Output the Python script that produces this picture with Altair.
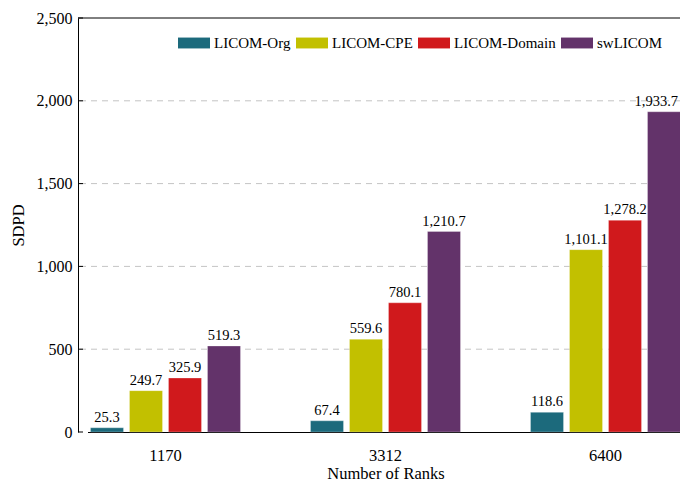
import altair as alt
import pandas as pd

ranks = ["1170", "3312", "6400"]
series = ["LICOM-Org", "LICOM-CPE", "LICOM-Domain", "swLICOM"]
colors = ["#1C6A7C", "#C2C000", "#D0191C", "#63336A"]
org = [25.3, 67.4, 118.6]
cpe = [249.7, 559.6, 1101.1]
domain = [325.9, 780.1, 1278.2]
sw = [519.3, 1210.7, 1933.7]
y_ticks = [0, 500, 1000, 1500, 2000, 2500]
grid_vals = [500, 1000, 1500, 2000]

W, H = 602, 414
FONT = "Liberation Serif"

rows = []
for s, vals in zip(series, [org, cpe, domain, sw]):
    for r, v in zip(ranks, vals):
        rows.append({"rank": r, "series": s, "value": v})
df = pd.DataFrame(rows)
ticks_df = pd.DataFrame({"v": y_ticks})
grid_df = pd.DataFrame({"v": grid_vals})
top_df = pd.DataFrame({"v": [y_ticks[-1]]})

yscale = alt.Scale(domain=[0, 2500], nice=False)
y_axis = alt.Axis(title="SDPD", values=y_ticks, format=",d", ticks=False, grid=False,
                  domainColor="black", labelFontSize=16, titleFontSize=16.5,
                  titleFontWeight="normal", labelPadding=6, titlePadding=10,
                  labelColor="black", titleColor="black")
xscale = alt.Scale(range=[9.5, 605.5], paddingInner=0.291, paddingOuter=0)
xoff = alt.Scale(paddingInner=0.154, paddingOuter=0.077)

grid = alt.Chart(grid_df).mark_rule(color="#c4c4c4", strokeDash=[6, 5], strokeWidth=1).encode(
    y=alt.Y("v:Q", scale=yscale, axis=y_axis)
)
tick_l = alt.Chart(ticks_df).mark_rule(color="black", strokeWidth=1).encode(
    y=alt.Y("v:Q", scale=yscale, axis=y_axis), x=alt.value(0), x2=alt.value(5)
)
top_line = alt.Chart(top_df).mark_rule(color="black", strokeWidth=1).encode(
    y=alt.Y("v:Q", scale=yscale, axis=y_axis), x=alt.value(0), x2=alt.value(W + 10)
)

base = alt.Chart(df).encode(
    x=alt.X("rank:N", scale=xscale, sort=ranks,
            axis=alt.Axis(title="Number of Ranks", labelAngle=0, ticks=False,
                          domainColor="black", labelFontSize=16.5, titleFontSize=16.5,
                          titleFontWeight="normal", labelPadding=15,
                          titleBaseline="bottom", titleY=49.5,
                          labelColor="black", titleColor="black")),
    xOffset=alt.XOffset("series:N", scale=xoff, sort=series),
)

bars = base.mark_bar(stroke="white", strokeOpacity=0.35, strokeWidth=0.8).encode(
    y=alt.Y("value:Q", scale=yscale, axis=y_axis),
    color=alt.Color("series:N", sort=series,
                    scale=alt.Scale(domain=series, range=colors),
                    legend=alt.Legend(title=None, orient="none", direction="horizontal",
                                      columns=4, legendX=100, legendY=9,
                                      symbolType="M-1,-0.34H1V0.34H-1Z", symbolSize=1024,
                                      symbolStrokeWidth=0, symbolOpacity=1,
                                      labelFontSize=15, labelOffset=4, columnPadding=5,
                                      padding=0, labelColor="black")),
)

last_test = f"datum.rank == '{ranks[-1]}' && datum.series == '{series[-1]}'"

text = base.mark_text(baseline="bottom", dy=-3, fontSize=14.5, color="black", font=FONT).encode(
    y=alt.Y("value:Q", scale=yscale, axis=y_axis),
    text=alt.Text("value:Q", format=",.1f"),
).transform_filter(f"!({last_test})")

text_last = base.mark_text(baseline="bottom", dy=-3, dx=14, align="right", fontSize=14.5,
                           color="black", font=FONT).encode(
    y=alt.Y("value:Q", scale=yscale, axis=y_axis),
    text=alt.Text("value:Q", format=",.1f"),
).transform_filter(last_test)

chart = alt.layer(grid, tick_l, top_line, bars, text, text_last).properties(
    width=W, height=H,
    autosize=alt.AutoSizeParams(type="none"),
    padding={"left": 70, "top": 10, "right": 0, "bottom": 50},
).configure(font=FONT).configure_view(stroke=None)

chart.save("out.html", embed_options={"renderer": "svg", "actions": False})
